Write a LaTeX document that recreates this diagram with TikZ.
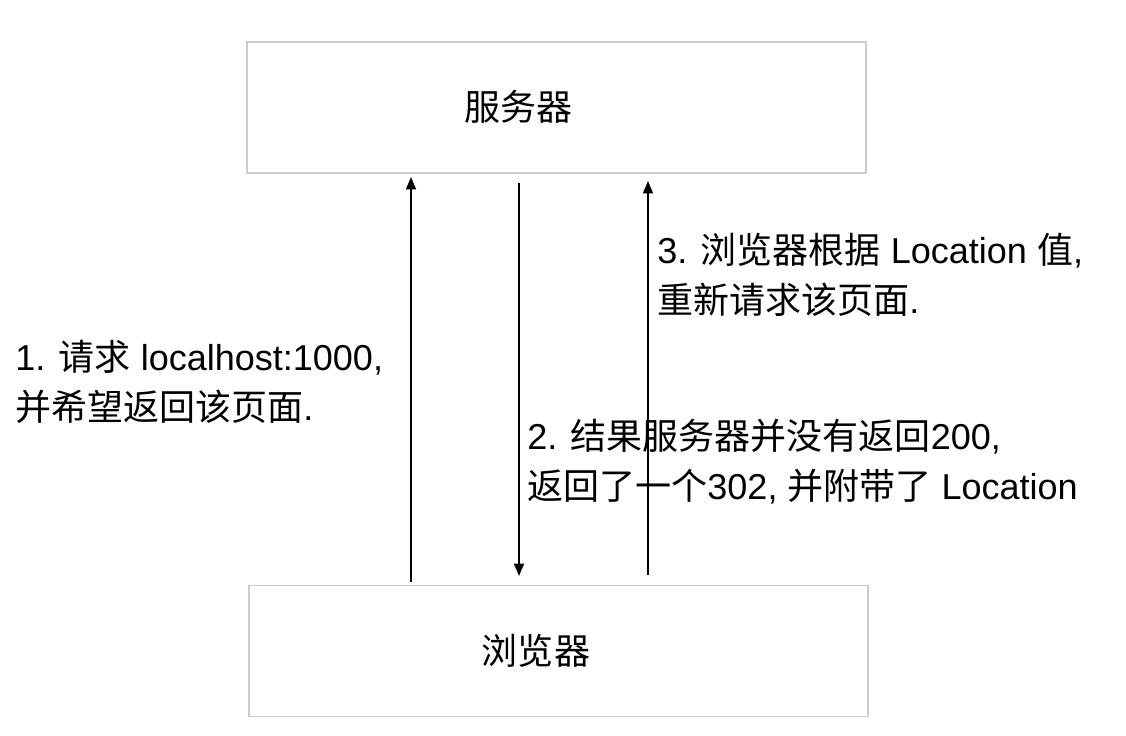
\documentclass[tikz,border=0pt]{standalone}
\usepackage{fontspec}
\setmainfont{Liberation Sans}
\newfontfamily\cjk{Noto Sans CJK SC}
\usetikzlibrary{arrows.meta}

\tikzset{
  box/.style={draw=gray!40, line width=0.9pt, minimum width=12.38cm, minimum height=2.62cm, inner sep=0pt},
  arr/.style={line width=1pt, -{Triangle[width=0.2cm,length=0.25cm]}},
  note/.style={anchor=west, align=left, inner sep=0pt, font=\fontsize{20.5}{28.45}\selectfont}
}

\begin{document}
\begin{tikzpicture}[x=0.02cm,y=-0.02cm]
\useasboundingbox (0,0) rectangle (1126,736);
% boxes
\node[box] (server) at (556.5,107.5) {};
\node[box] (browser) at (558.5,651) {};
\node[font=\fontsize{20.5}{24}\selectfont\cjk] (serverlabel) at (518.5,107) {服务器};
\node[font=\fontsize{20.5}{24}\selectfont\cjk] (browserlabel) at (536,651) {浏览器};
% arrow ends
\coordinate (req1) at (411,582);
\coordinate (req1end) at (411,177);
\coordinate (resp) at (519,183);
\coordinate (respend) at (519,576);
\coordinate (req2) at (648,575);
\coordinate (req2end) at (648,181);
\draw[arr] (req1) -- (req1end);
\draw[arr] (resp) -- (respend);
\draw[arr] (req2) -- (req2end);
% notes
\node[note] (note1) at (15,382) {1. {\cjk 请求} localhost:1000,\\{\cjk 并希望返回该页面}.};
\node[note] (note2) at (527,462) {2. {\cjk 结果服务器并没有返回}200,\\{\cjk 返回了一个}302, {\cjk 并附带了} Location};
\node[note] (note3) at (657,275) {3. {\cjk 浏览器根据} Location {\cjk 值},\\{\cjk 重新请求该页面}.};
\end{tikzpicture}
\end{document}
